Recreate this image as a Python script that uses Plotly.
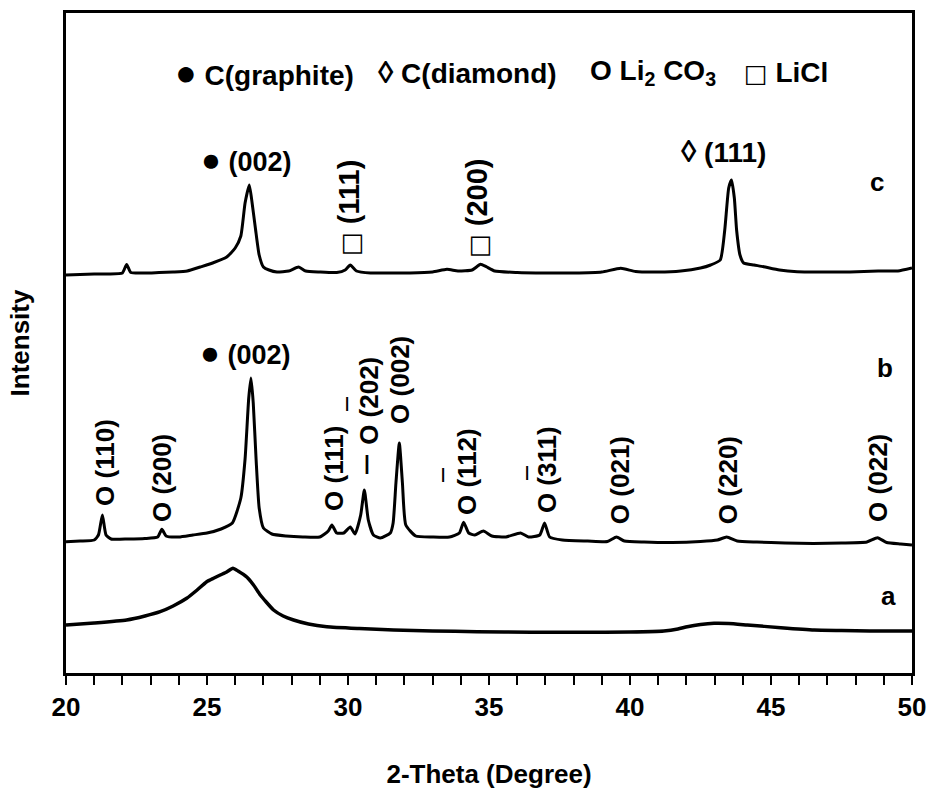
import plotly.graph_objects as go

# ---------------- data (2-theta in degrees, intensity in a.u., curves stacked) ----------------
theta_c = [20.0, 20.5, 21.0, 21.5, 22.0, 22.15, 22.3, 22.8, 23.3, 23.8, 24.3, 24.76, 25.2, 25.7,
           26.0, 26.2, 26.35, 26.5, 26.6, 26.72, 26.85, 27.0, 27.2, 27.48, 27.9, 28.25, 28.5,
           29.0, 29.6, 29.9, 30.08, 30.3, 30.8, 31.5, 32.2, 33.0, 33.51, 33.9, 34.4, 34.7, 34.9,
           35.2, 36.0, 37.0, 38.0, 39.0, 39.67, 40.2, 41.0, 41.8, 42.5, 42.86, 43.2, 43.36, 43.5,
           43.6, 43.7, 43.78, 43.9, 44.03, 44.4, 44.74, 45.3, 45.93, 46.8, 47.8, 48.8, 49.5, 50.0]
int_c = [398, 398.5, 399, 399, 400, 408.5, 400.5, 400, 400.5, 401, 402, 406, 410, 416,
         425, 437, 470, 488, 470, 444, 418, 406, 403, 401, 402, 406, 402,
         401, 400.5, 403, 408, 402, 400, 400, 400, 401, 403.7, 402, 403, 408.7, 406.3,
         402, 400.5, 400, 400, 401, 404.7, 401.5, 401, 402, 405, 408, 413, 443, 485,
         493, 475, 443, 418, 410, 408, 406.3, 403, 401.3, 401, 401, 402, 402, 405]

theta_b = [20.0, 20.5, 21.0, 21.15, 21.29, 21.42, 21.6, 22.2, 22.8, 23.25, 23.4, 23.55, 24.0,
           24.5, 25.0, 25.5, 25.9, 26.2, 26.35, 26.48, 26.56, 26.64, 26.74, 26.85, 27.0, 27.3,
           27.8, 28.4, 29.0, 29.3, 29.43, 29.6, 29.85, 30.08, 30.25, 30.45, 30.58, 30.72, 30.9,
           31.15, 31.5, 31.6, 31.7, 31.82, 31.93, 32.05, 32.4, 33.0, 33.6, 33.95, 34.1, 34.28,
           34.5, 34.8, 35.1, 35.6, 36.12, 36.4, 36.8, 36.97, 37.15, 37.6, 38.5, 39.2, 39.52,
           39.8, 40.5, 41.5, 42.5, 43.1, 43.43, 43.8, 44.5, 45.5, 46.5, 47.5, 48.4, 48.78, 49.1,
           49.6, 50.0]
int_b = [131.3, 132, 133, 138, 158, 138, 134, 134, 134.5, 136, 143.7, 137, 136,
         138, 140, 144, 150, 175, 214, 275, 295, 270, 214, 165, 145, 139,
         137, 136, 136, 142, 148, 140, 140, 146, 139, 158, 183, 153, 138,
         135, 140, 150, 190, 230, 190, 148, 137, 136, 136, 140, 150.7, 140,
         138, 142, 137, 136, 140, 136, 138, 150, 136, 133, 132, 131.5, 136,
         132, 131, 130.5, 131.5, 133, 136, 132, 131, 130, 129.5, 130, 131, 135.3, 130.5,
         129, 128]

theta_a = [20.0, 21.0, 22.15, 22.8, 23.34, 23.8, 24.28, 24.65, 24.99, 25.25, 25.47, 25.7, 25.92,
           26.1, 26.41, 26.65, 26.89, 27.1, 27.36, 27.7, 28.07, 28.6, 29.25, 30.4, 31.62, 33.0,
           34.58, 36.5, 38.25, 40.0, 41.2, 41.7, 42.03, 42.5, 42.98, 43.5, 44.16, 45.35, 46.53,
           47.5, 48.5, 50.0]
int_a = [48, 50, 53, 57, 61.3, 67, 74.7, 83, 91.3, 95, 98, 101, 104.7,
         102, 96, 88, 78, 71, 63, 57, 53, 49, 46.3, 44.5, 43, 42,
         41.3, 40.7, 40.7, 41, 42, 44, 46.3, 48.5, 49.7, 49.5, 48, 45.3, 43,
         42.5, 42, 42]

tick_vals = [20, 25, 30, 35, 40, 45, 50]
tick_text = ["20", "25", "30", "35", "40", "45", "50"]

# ---------------- figure ----------------
FONT = "Liberation Sans, Arial, sans-serif"
fig = go.Figure()
for th, it, name, w in [(theta_c, int_c, "c", 3), (theta_b, int_b, "b", 3), (theta_a, int_a, "a", 3.5)]:
    fig.add_trace(go.Scatter(x=th, y=it, mode="lines", name=name,
                             line=dict(color="black", width=w, shape="spline", smoothing=0.5),
                             showlegend=False, hoverinfo="skip"))

ann = []
def txt(x, y, s, angle=0, size=26, xanchor="center"):
    ann.append(dict(x=x, y=y, xref="x", yref="y", text=s, showarrow=False,
                    textangle=angle, xanchor=xanchor, yanchor="middle",
                    font=dict(family=FONT, size=size, color="black")))

b = lambda s: "<b>" + s + "</b>"
DOT = "<span style='font-size:36px'>●</span>"
DOT2 = "<span style='font-size:33px'>●</span>"
DIA = "<span style='font-size:31px'>◊</span>"
SQ = "<span style='font-family:DejaVu Sans;font-size:25px'>□</span>"

# legend row
txt(23.78, 601, b(DOT + " C(graphite)"), size=28, xanchor="left")
txt(31.00, 601, b(DIA + " C(diamond)"), size=28, xanchor="left")
txt(38.50, 601, b("O Li<sub>2</sub> CO<sub>3</sub>"), size=28, xanchor="left")
txt(43.98, 601, b(SQ + " LiCl"), size=28, xanchor="left")

# curve c
txt(26.40, 514, b(DOT2 + " (002)"), size=27)
txt(30.03, 465, b(SQ + " (111)"), angle=-90, size=29)
txt(34.57, 465, b(SQ + " (200)"), angle=-90, size=29)
txt(43.30, 522, b(DIA + " (111)"), size=28)
txt(48.76, 491, b("c"))

# curve b (bars over Miller indices drawn as separate short strokes, as in the original)
txt(26.36, 321, b(DOT2 + " (002)"), size=27)
txt(21.38, 211, b("O (110)"), angle=-90)
txt(23.40, 195, b("O (200)"), angle=-90)
txt(29.50, 205, b("O (111)"), angle=-90)
txt(30.74, 272, b("O (202)"), angle=-90)
txt(30.67, 211, b("|"), size=21)
txt(29.97, 271, b("|"), size=15)
txt(31.84, 293, b("O (002)"), angle=-90)
txt(34.22, 201, b("O (112)"), angle=-90)
txt(33.37, 200, b("|"), size=15)
txt(37.06, 203, b("O (311)"), angle=-90)
txt(36.35, 202, b("|"), size=15)
txt(39.65, 193, b("O (021)"), angle=-90)
txt(43.48, 193, b("O (220)"), angle=-90)
txt(48.79, 195, b("O (022)"), angle=-90)
txt(49.04, 305, b("b"))

# curve a
txt(49.15, 77, b("a"))

fig.update_layout(
    width=931, height=789,
    margin=dict(l=66, r=19, t=13, b=116),
    paper_bgcolor="white", plot_bgcolor="white",
    annotations=ann,
    font=dict(family=FONT, size=26, color="black"),
    xaxis=dict(range=[20, 50], tickmode="array", tickvals=tick_vals, ticktext=tick_text,
               ticks="outside", ticklen=9, tickwidth=2, tickcolor="black",
               minor=dict(dtick=1, tick0=20, ticks="outside", ticklen=9, tickwidth=2, tickcolor="black"),
               showline=True, linewidth=2.5, linecolor="black", mirror=True,
               showgrid=False, zeroline=False, automargin=False, ticklabeloverflow="allow",
               tickfont=dict(family=FONT, size=26, color="black", weight="bold"),
               title=dict(text="<b>2-Theta (Degree)</b>", standoff=45,
                          font=dict(family=FONT, size=26, color="black"))),
    yaxis=dict(range=[0, 660], showticklabels=False, ticks="", automargin=False,
               showline=True, linewidth=2.5, linecolor="black", mirror=True,
               showgrid=False, zeroline=False,
               title=dict(text="<b>Intensity</b>", standoff=27,
                          font=dict(family=FONT, size=26, color="black"))),
)

fig.write_html("out.html", config={"displayModeBar": False},
               post_script="document.body.style.margin='0';document.body.style.padding='0';"
                           "document.body.style.overflow='hidden';")
